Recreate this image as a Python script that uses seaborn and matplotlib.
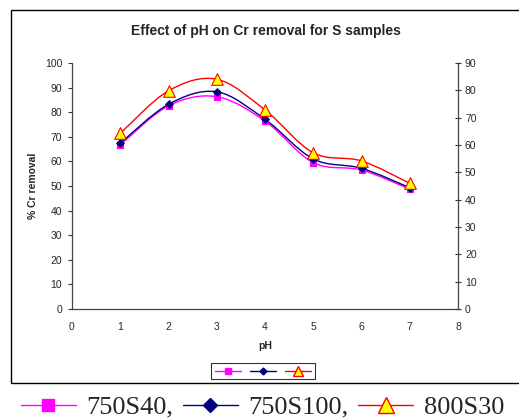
import matplotlib
matplotlib.use("Agg")
import matplotlib.pyplot as plt
from matplotlib.path import Path
from matplotlib.patches import PathPatch, Rectangle
from matplotlib.lines import Line2D
import numpy as np
import pandas as pd
import seaborn as sns

# data
ph = [1, 2, 3, 4, 5, 6, 7]
s750_40 = [66.7, 82.6, 86.3, 76.4, 59.5, 56.5, 48.7]
s750_100 = [67.4, 83.2, 88.3, 77.1, 61.0, 57.2, 49.3]
s800_30 = [71.4, 88.7, 93.4, 80.9, 63.5, 60.2, 51.1]
series_names = ["750S40", "750S100", "800S30"]
left_ticks = list(range(0, 101, 10))
right_ticks = list(range(0, 91, 10))
x_ticks = list(range(0, 9))

df = pd.DataFrame({
    "pH": ph * 3,
    "removal": s750_40 + s750_100 + s800_30,
    "sample": [n for n in series_names for _ in ph],
})

styles = {
    "750S40": dict(color="#FF00FF", marker="s", face="#FF00FF", size=20, lw=1.0),
    "750S100": dict(color="#000080", marker="D", face="#000080", size=15, lw=1.0),
    "800S30": dict(color="#FF0000", marker="^", face="#FFFF00", size=70, lw=1.0),
}


def smooth_path(xs, ys):
    # Excel-like smoothed line: cubic bezier with Catmull-Rom control points
    xs = np.asarray(xs, float)
    ys = np.asarray(ys, float)
    verts = [(xs[0], ys[0])]
    codes = [Path.MOVETO]
    n = len(xs)
    for i in range(n - 1):
        x0, y0 = (xs[i - 1], ys[i - 1]) if i > 0 else (xs[i], ys[i])
        x3, y3 = (xs[i + 2], ys[i + 2]) if i + 2 < n else (xs[i + 1], ys[i + 1])
        c1 = (xs[i] + (xs[i + 1] - x0) / 6, ys[i] + (ys[i + 1] - y0) / 6)
        c2 = (xs[i + 1] - (x3 - xs[i]) / 6, ys[i + 1] - (y3 - ys[i]) / 6)
        verts += [c1, c2, (xs[i + 1], ys[i + 1])]
        codes += [Path.CURVE4] * 3
    return Path(verts, codes)


sns.set_style("white")
plt.rcParams["font.family"] = ["Liberation Sans", "DejaVu Sans"]

fig = plt.figure(figsize=(5.19, 4.18), dpi=100)
fig.patch.set_facecolor("white")

# outer chart border
fig.patches.append(Rectangle((11 / 519, 1 - 383 / 418), 520 / 519, 373 / 418,
                             transform=fig.transFigure, fill=False,
                             edgecolor="black", linewidth=1.0))

ax = fig.add_axes([72 / 519, 1 - 309 / 418, 386 / 519, 246 / 418])
ax.set_facecolor("none")

for name in series_names:
    st = styles[name]
    sub = df[df["sample"] == name]
    ax.add_patch(PathPatch(smooth_path(sub["pH"], sub["removal"]), fill=False,
                           edgecolor=st["color"], linewidth=st["lw"], zorder=2))
    sns.scatterplot(data=sub, x="pH", y="removal", ax=ax, marker=st["marker"],
                    color=st["face"], edgecolor=st["color"], linewidth=0.8,
                    s=st["size"], zorder=3, legend=False)

ax.set_xlim(0, 8)
ax.set_ylim(0, 100)
ax.set_xticks(x_ticks)
ax.set_yticks(left_ticks)
ax.tick_params(axis="both", labelsize=7.5, length=3, width=0.8, color="#333333",
               direction="out", pad=4)
ax.tick_params(axis="x", pad=6)
for side in ["top", "right"]:
    ax.spines[side].set_visible(False)
for side in ["left", "bottom"]:
    ax.spines[side].set_color("#444444")
    ax.spines[side].set_linewidth(0.9)
ax.set_xlabel("pH", fontsize=7.5, fontweight="bold", labelpad=7)
ax.set_ylabel("% Cr removal", fontsize=7.5, fontweight="bold", labelpad=5)

ax2 = ax.twinx()
ax2.set_ylim(0, 90)
ax2.set_yticks(right_ticks)
ax2.tick_params(axis="y", labelsize=7.5, length=4, width=0.8, color="#333333",
                direction="inout", pad=3)
for side in ["top", "left", "bottom"]:
    ax2.spines[side].set_visible(False)
ax2.spines["right"].set_color("#444444")
ax2.spines["right"].set_linewidth(0.9)

fig.text(266 / 519, 1 - 31 / 418, "Effect of pH on Cr removal for S samples",
         ha="center", va="center", fontsize=10, fontweight="bold")


def handle(name, ms):
    st = styles[name]
    return Line2D([], [], color=st["color"], marker=st["marker"],
                  markerfacecolor=st["face"], markeredgecolor=st["color"],
                  markersize=ms, linewidth=1.0)


# small legend inside chart, no labels
inner = [handle("750S40", 4), handle("750S100", 3.5), handle("800S30", 7)]
leg = fig.legend(inner, ["", "", ""], loc="center",
                 bbox_to_anchor=(263 / 519, 1 - 371 / 418), ncol=3,
                 fontsize=7, handlelength=2.7, handletextpad=0.0,
                 columnspacing=0.9, frameon=True, fancybox=False,
                 borderpad=0.35, borderaxespad=0)
leg.get_frame().set_edgecolor("black")
leg.get_frame().set_linewidth(0.8)

# caption below the chart
cap = [handle("750S40", 8), handle("750S100", 7), handle("800S30", 12)]
cap_leg = fig.legend(cap, [n + "," if i < 2 else n for i, n in enumerate(series_names)],
                     loc="center left", bbox_to_anchor=(18 / 519, 1 - 407 / 418),
                     ncol=3, prop={"family": "Liberation Serif", "size": 19},
                     handlelength=2.1, handletextpad=0.4, columnspacing=0.35,
                     frameon=True, fancybox=False, borderpad=0.1, borderaxespad=0)
cap_leg.get_frame().set_edgecolor("none")
cap_leg.get_frame().set_facecolor("white")

fig.savefig("out.png", dpi=100)
